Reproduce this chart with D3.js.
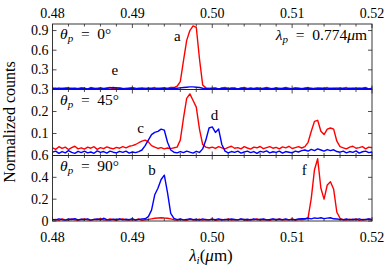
<!DOCTYPE html>
<html>
<head>
<meta charset="utf-8">
<script src="https://cdn.jsdelivr.net/npm/d3@7"></script>
<style>
  body { margin: 0; background: #fff; }
  text { font-family: "Liberation Serif", "DejaVu Serif", serif; fill: #000; }
</style>
</head>
<body>
<svg id="chart" width="391" height="277"></svg>
<script>
// wavelength grid, micrometres (0.48 .. 0.52, step 0.0004)
const wavelength = d3.range(101).map(i => +(0.48 + 0.0004 * i).toFixed(4));

// theta_p = 0 deg
const redTop = [
  0.02,0.01,0.025,0.015,0.02,0.03,0.01,0.02,0.015,0.025,
  0.02,0.01,0.03,0.015,0.02,0.025,0.01,0.02,0.03,0.015,
  0.02,0.025,0.01,0.02,0.015,0.03,0.02,0.01,0.025,0.02,
  0.015,0.02,0.03,0.01,0.02,0.025,0.02,0.03,
  0.03,0.05,0.12,0.44,0.75,0.9,0.97,0.95,0.47,0.07,0.025,
  0.02,0.015,0.025,0.01,0.02,0.03,0.015,0.02,0.025,0.01,0.02,
  0.03,0.015,0.02,0.01,0.025,0.02,0.015,0.03,0.02,0.01,
  0.025,0.02,0.015,0.03,0.02,0.01,0.025,0.02,0.015,0.02,
  0.03,0.01,0.02,0.025,0.015,0.02,0.03,0.01,0.02,0.025,
  0.015,0.02,0.03,0.01,0.02,0.025,0.015,0.02,0.03,0.01,0.02
];
const blueTop = [
  0.015,0.02,0.01,0.015,0.02,0.01,0.02,0.015,0.01,0.02,
  0.015,0.01,0.02,0.015,0.01,0.02,0.015,0.02,0.025,0.03,
  0.025,0.02,0.015,0.01,0.02,0.015,0.01,0.02,0.015,0.01,
  0.02,0.015,0.01,0.02,0.015,0.02,0.01,0.015,0.02,0.02,
  0.025,0.03,0.035,0.04,0.04,0.035,0.03,0.02,0.015,0.01,
  0.02,0.015,0.01,0.02,0.015,0.01,0.02,0.015,0.01,0.02,
  0.015,0.01,0.02,0.015,0.02,0.01,0.015,0.02,0.01,0.015,
  0.02,0.01,0.015,0.02,0.01,0.015,0.02,0.015,0.01,0.02,
  0.015,0.02,0.01,0.015,0.02,0.015,0.01,0.02,0.015,0.01,
  0.02,0.015,0.01,0.02,0.015,0.01,0.02,0.015,0.02,0.01,0.015
];

// theta_p = 45 deg
const redMid = [
  0.035,0.028,0.04,0.032,0.038,0.027,0.036,0.042,0.03,0.035,
  0.029,0.038,0.033,0.04,0.028,0.036,0.031,0.039,0.034,0.03,
  0.037,0.033,0.04,0.035,0.042,0.045,0.05,0.058,0.065,0.07,
  0.062,0.045,0.038,0.032,0.036,0.03,0.034,0.031,0.035,0.038,
  0.07,0.17,0.26,0.28,0.25,0.22,0.12,0.05,0.038,0.034,
  0.038,0.032,0.04,0.035,0.03,0.037,0.042,0.033,0.036,0.03,
  0.04,0.034,0.029,0.038,0.035,0.041,0.031,0.036,0.04,0.033,
  0.037,0.03,0.039,0.035,0.042,0.032,0.036,0.04,0.034,0.04,
  0.06,0.11,0.155,0.16,0.11,0.095,0.12,0.125,0.12,0.065,
  0.04,0.035,0.03,0.038,0.042,0.033,0.036,0.04,0.03,0.038,0.035
];
const blueMid = [
  0.015,0.02,0.01,0.018,0.012,0.022,0.014,0.01,0.019,0.013,
  0.02,0.012,0.016,0.01,0.021,0.014,0.018,0.011,0.02,0.015,
  0.012,0.019,0.014,0.02,0.011,0.016,0.013,0.018,0.025,0.045,
  0.07,0.095,0.105,0.11,0.12,0.115,0.06,0.025,0.015,0.012,
  0.018,0.013,0.02,0.015,0.011,0.019,0.014,0.03,0.07,0.125,
  0.13,0.105,0.12,0.05,0.02,0.012,0.018,0.014,0.02,0.011,
  0.016,0.02,0.013,0.018,0.01,0.019,0.015,0.021,0.012,0.017,
  0.014,0.02,0.011,0.018,0.015,0.012,0.02,0.016,0.022,0.025,
  0.02,0.028,0.022,0.03,0.025,0.02,0.027,0.022,0.026,0.018,
  0.015,0.02,0.012,0.018,0.014,0.021,0.011,0.017,0.02,0.013,0.016
];

// theta_p = 90 deg
const redBot = [
  0.01,0.015,0.005,0.02,0.01,0.008,0.018,0.012,0.005,0.015,
  0.02,0.01,0.006,0.015,0.012,0.025,0.01,0.008,0.018,0.012,
  0.005,0.015,0.02,0.01,0.008,0.014,0.01,0.018,0.006,0.012,
  0.015,0.02,0.025,0.028,0.03,0.027,0.025,0.02,0.012,0.008,
  0.015,0.01,0.006,0.018,0.012,0.01,0.016,0.008,0.014,0.01,
  0.018,0.006,0.012,0.015,0.01,0.02,0.008,0.013,0.01,0.017,
  0.012,0.006,0.015,0.01,0.02,0.008,0.014,0.011,0.006,0.016,
  0.01,0.018,0.008,0.013,0.01,0.02,0.007,0.015,0.012,0.015,
  0.03,0.21,0.47,0.57,0.30,0.20,0.33,0.36,0.29,0.08,
  0.025,0.012,0.008,0.016,0.01,0.02,0.006,0.014,0.01,0.018,0.012
];
const blueBot = [
  0.015,0.01,0.02,0.012,0.008,0.018,0.014,0.022,0.01,0.016,
  0.012,0.02,0.008,0.015,0.018,0.01,0.025,0.013,0.009,0.017,
  0.014,0.02,0.01,0.016,0.012,0.022,0.009,0.015,0.018,0.02,
  0.04,0.10,0.24,0.30,0.38,0.42,0.26,0.07,0.025,0.012,
  0.018,0.01,0.015,0.02,0.012,0.016,0.008,0.019,0.013,0.01,
  0.017,0.012,0.02,0.009,0.015,0.011,0.018,0.014,0.01,0.02,
  0.013,0.016,0.009,0.02,0.012,0.015,0.018,0.01,0.014,0.019,
  0.011,0.016,0.013,0.02,0.01,0.015,0.012,0.018,0.02,0.022,
  0.025,0.02,0.028,0.024,0.03,0.022,0.026,0.03,0.02,0.018,
  0.015,0.012,0.018,0.01,0.016,0.013,0.02,0.011,0.015,0.018,0.012
];

const xTicks = [0.48, 0.49, 0.50, 0.51, 0.52];
const yTicksTop = [0.3, 0.6, 0.9];
const yTicksMid = [0.1, 0.2, 0.3];
const yTicksBot = [0, 0.2, 0.4, 0.6];

const svg = d3.select("#chart");
const x = d3.scaleLinear().domain([0.48, 0.52]).range([52.5, 372]);
const minorTicks = d3.range(0, 21).map(i => 0.48 + 0.002 * i);
const EQ = "\u2002=\u2002";

const panels = [
  { red: redTop, blue: blueTop, max: 1.0, ticks: yTicksTop, top: 24, bottom: 89.5,
    angle: "0°", labels: [{ t: "a", v: 0.4952, y: 41 }, { t: "e", v: 0.4874, y: 75 }] },
  { red: redMid, blue: blueMid, max: 0.3, ticks: yTicksMid, top: 89.5, bottom: 155.5,
    angle: "45°", labels: [{ t: "c", v: 0.4906, y: 133 }, { t: "d", v: 0.4998, y: 120 }] },
  { red: redBot, blue: blueBot, max: 0.6, ticks: yTicksBot, top: 155.5, bottom: 221,
    angle: "90°", labels: [{ t: "b", v: 0.4920, y: 175 }, { t: "f", v: 0.5112, y: 175 }] }
];

panels.forEach((p, k) => {
  const y = d3.scaleLinear().domain([0, p.max]).range([p.bottom, p.top]);
  const g = svg.append("g");

  const line = d3.line()
    .x((d, i) => x(wavelength[i]))
    .y(d => y(d));

  g.append("path").datum(p.red)
    .attr("fill", "none").attr("stroke", "#ff0000").attr("stroke-width", 1.4)
    .attr("stroke-linejoin", "round").attr("d", line);
  g.append("path").datum(p.blue)
    .attr("fill", "none").attr("stroke", "#0000ff").attr("stroke-width", 1.4)
    .attr("stroke-linejoin", "round").attr("d", line);

  // frame
  g.append("rect")
    .attr("x", x(0.48)).attr("y", p.top)
    .attr("width", x(0.52) - x(0.48)).attr("height", p.bottom - p.top)
    .attr("fill", "none").attr("stroke", "#222").attr("stroke-width", 0.9);

  // inward x ticks, top and bottom of each panel
  minorTicks.forEach(v => {
    const major = xTicks.some(t => Math.abs(t - v) < 1e-6);
    const len = major ? 4 : 2.5;
    g.append("line").attr("x1", x(v)).attr("x2", x(v))
      .attr("y1", p.top).attr("y2", p.top + len)
      .attr("stroke", "#222").attr("stroke-width", 0.8);
    g.append("line").attr("x1", x(v)).attr("x2", x(v))
      .attr("y1", p.bottom).attr("y2", p.bottom - len)
      .attr("stroke", "#222").attr("stroke-width", 0.8);
  });

  // y ticks and labels
  p.ticks.forEach(v => {
    [[x(0.48), 4], [x(0.52), -4]].forEach(([x0, d]) => {
      g.append("line").attr("x1", x0).attr("x2", x0 + d)
        .attr("y1", y(v)).attr("y2", y(v))
        .attr("stroke", "#222").attr("stroke-width", 0.8);
    });
    g.append("text").attr("x", 48.5).attr("y", y(v) + 4.6)
      .attr("text-anchor", "end").attr("font-size", 14)
      .text(d3.format("")(v));
  });

  // angle label
  const th = g.append("text").attr("x", 60).attr("y", p.top + 15).attr("font-size", 15.5);
  th.append("tspan").attr("font-style", "italic").text("θ");
  th.append("tspan").attr("font-style", "italic").attr("font-size", 11).attr("dy", 3).text("p");
  th.append("tspan").attr("dy", -3).text(EQ + p.angle);

  p.labels.forEach(l => {
    g.append("text").attr("x", x(l.v)).attr("y", l.y).attr("font-size", 15).text(l.t);
  });
});

// x tick labels, top and bottom
xTicks.forEach(v => {
  svg.append("text").attr("x", x(v)).attr("y", 17.5)
    .attr("text-anchor", "middle").attr("font-size", 14).text(v.toFixed(2));
  svg.append("text").attr("x", x(v)).attr("y", 241.5)
    .attr("text-anchor", "middle").attr("font-size", 14).text(v.toFixed(2));
});

// pump wavelength
const lp = svg.append("text").attr("x", 367).attr("y", 40)
  .attr("text-anchor", "end").attr("font-size", 15.5);
lp.append("tspan").attr("font-style", "italic").text("λ");
lp.append("tspan").attr("font-style", "italic").attr("font-size", 11).attr("dy", 3).text("p");
lp.append("tspan").attr("dy", -3).text(EQ + "0.774");
lp.append("tspan").attr("font-style", "italic").text("μ");
lp.append("tspan").text("m");

// axis titles
const xt = svg.append("text").attr("x", 211).attr("y", 261)
  .attr("text-anchor", "middle").attr("font-size", 17);
xt.append("tspan").attr("font-style", "italic").text("λ");
xt.append("tspan").attr("font-style", "italic").attr("font-size", 11).attr("dy", 3).text("i");
xt.append("tspan").attr("dy", -3).text("(");
xt.append("tspan").attr("font-style", "italic").text("μ");
xt.append("tspan").text("m)");

svg.append("text")
  .attr("transform", "translate(15,122) rotate(-90)")
  .attr("text-anchor", "middle").attr("font-size", 16)
  .text("Normalized counts");
</script>
</body>
</html>
